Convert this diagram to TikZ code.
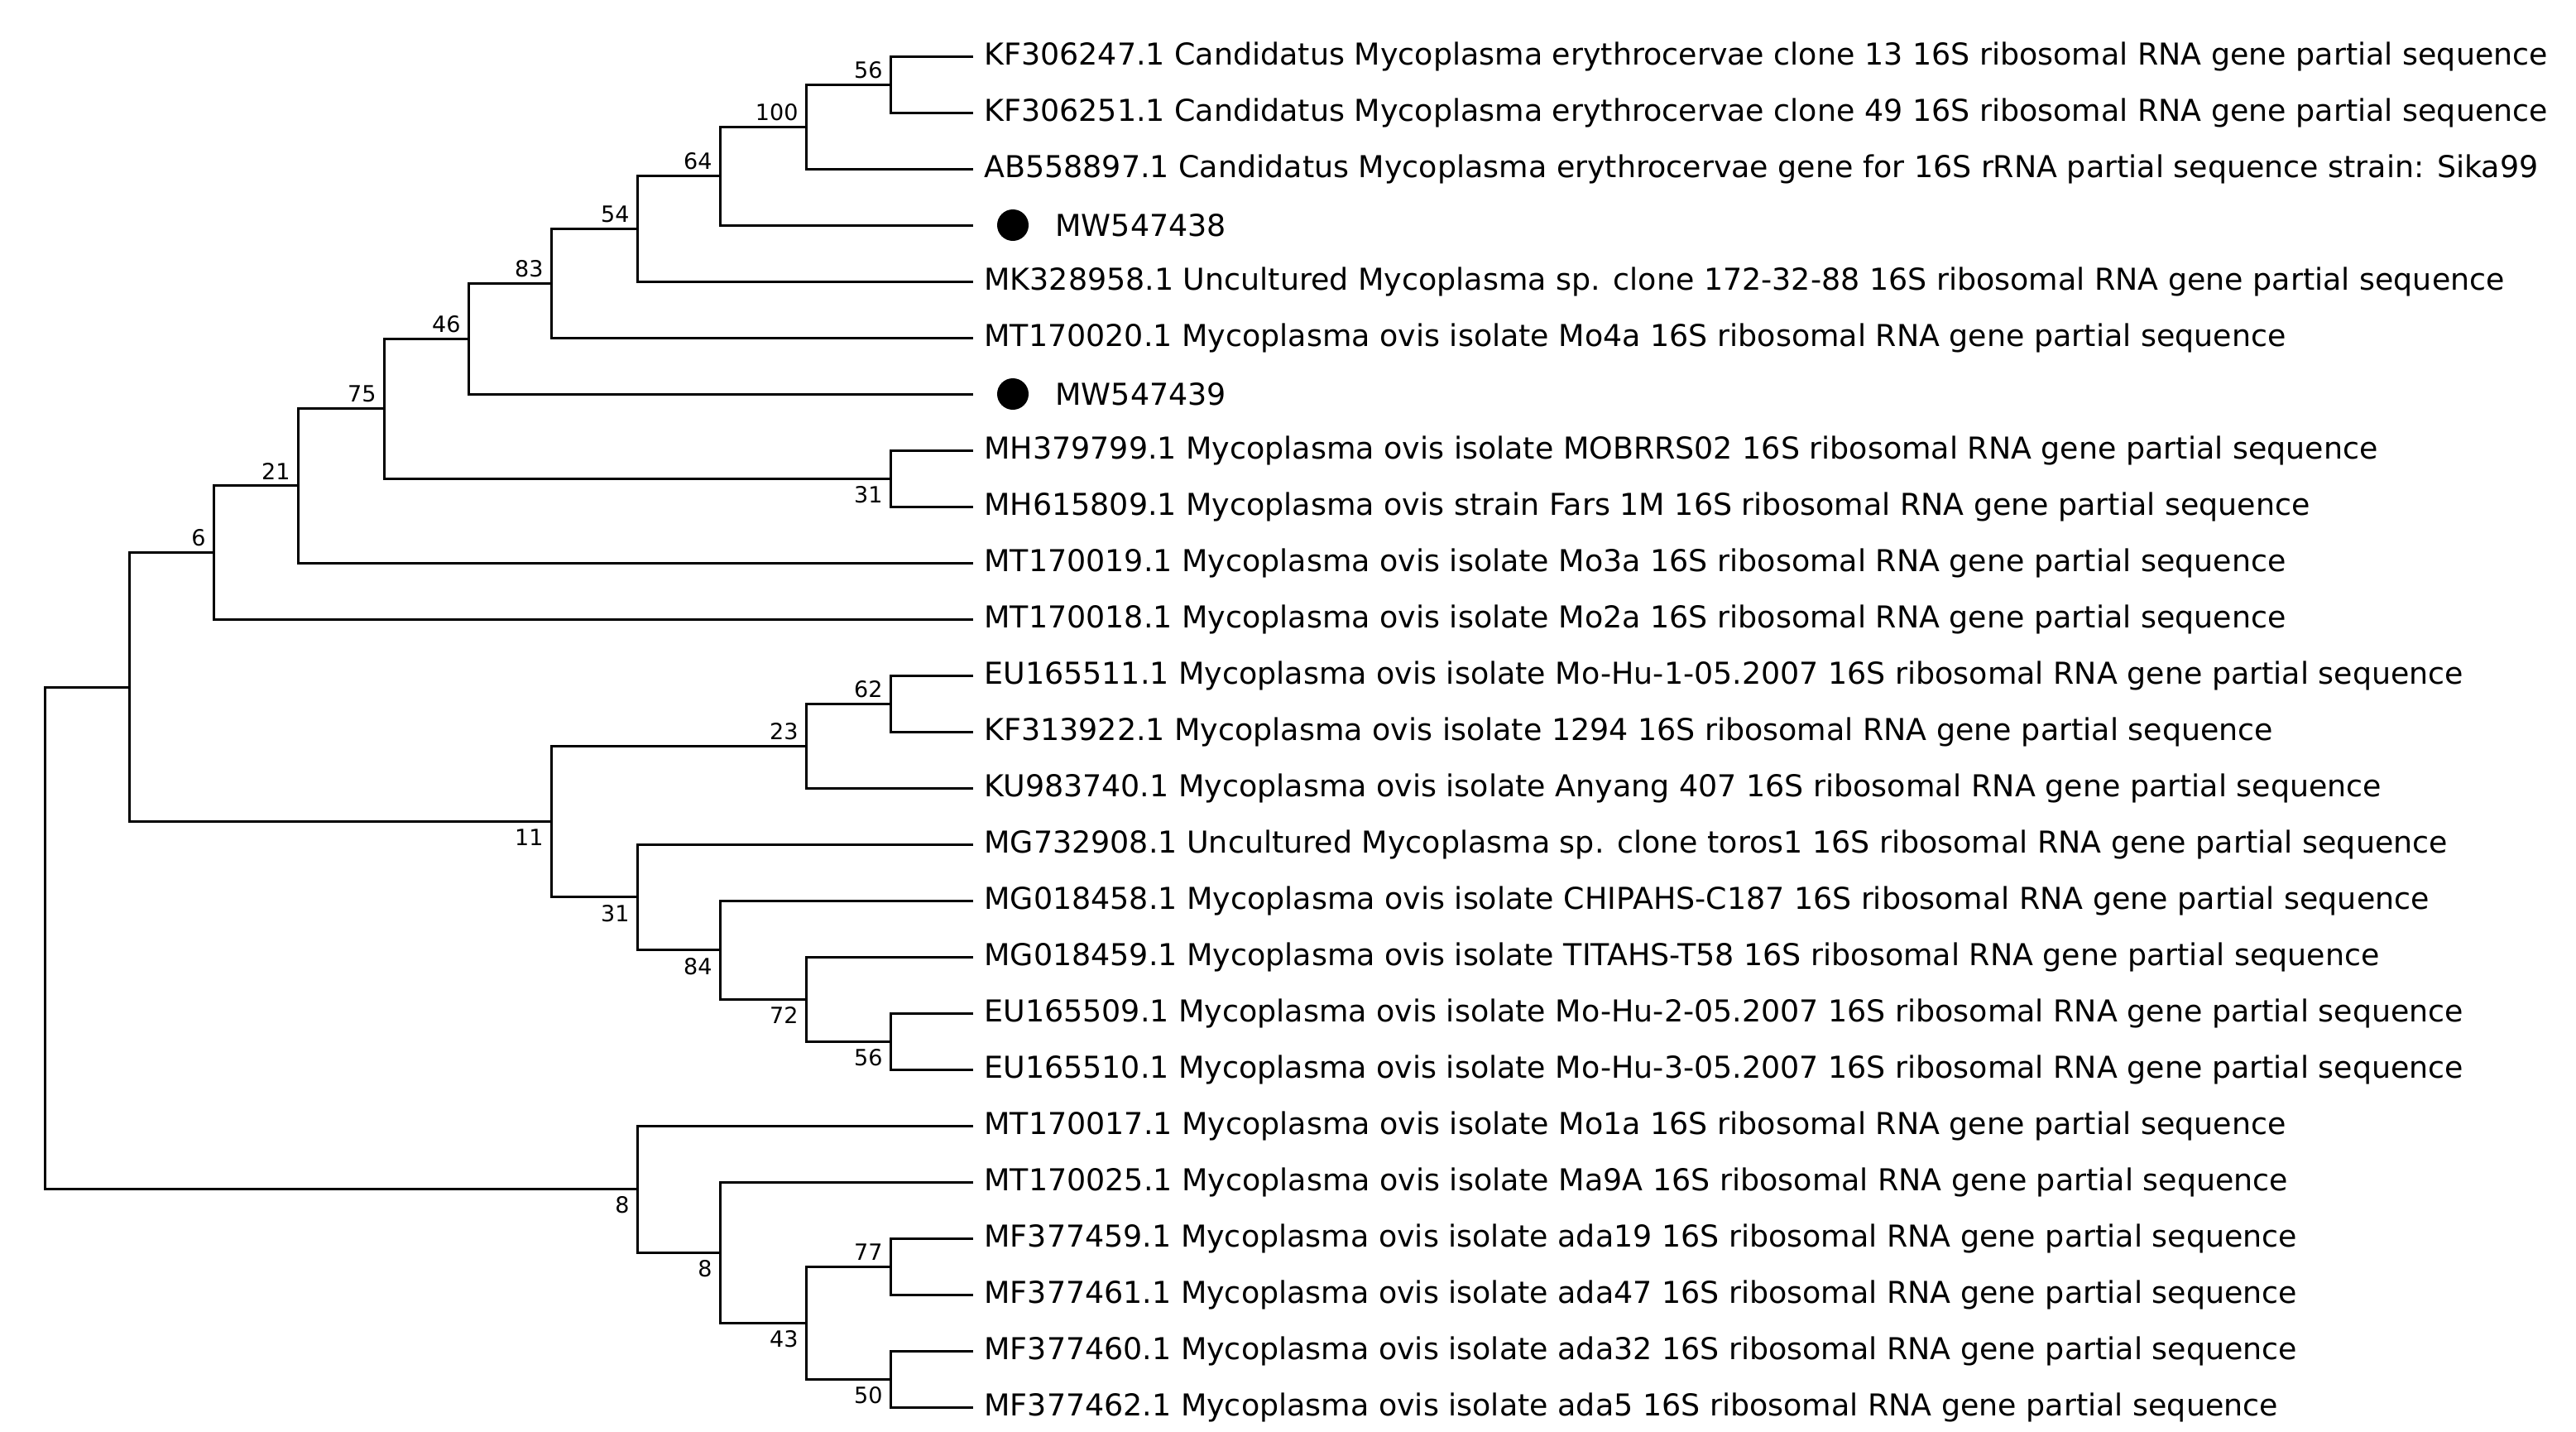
\documentclass[tikz,border=0pt]{standalone}
\usepackage{fontspec}
\setmainfont{DejaVu Sans}
\begin{document}
\begin{tikzpicture}[x=1pt,y=-1pt,line width=1.5pt,
 leaf/.style={anchor=west,inner sep=0pt,font=\fontsize{18.2}{20}\selectfont},
 bs/.style={inner sep=0pt,font=\fontsize{13.5}{15}\selectfont},
 up/.style={bs,anchor=south east,xshift=-4pt,yshift=3pt},
 dn/.style={bs,anchor=north east,xshift=-4pt,yshift=-4pt},
 dot/.style={circle,fill=black,inner sep=0pt,minimum size=19pt}]
\useasboundingbox (0,0) rectangle (1556.5,864.5);
% leaves
\foreach \i/\t in {0/KF306247.1 Candidatus Mycoplasma erythrocervae clone 13 16S ribosomal RNA gene partial sequence,
1/KF306251.1 Candidatus Mycoplasma erythrocervae clone 49 16S ribosomal RNA gene partial sequence,
2/AB558897.1 Candidatus Mycoplasma erythrocervae gene for 16S rRNA partial sequence strain: Sika99,
4/MK328958.1 Uncultured Mycoplasma sp. clone 172-32-88 16S ribosomal RNA gene partial sequence,
5/MT170020.1 Mycoplasma ovis isolate Mo4a 16S ribosomal RNA gene partial sequence,
7/MH379799.1 Mycoplasma ovis isolate MOBRRS02 16S ribosomal RNA gene partial sequence,
8/MH615809.1 Mycoplasma ovis strain Fars 1M 16S ribosomal RNA gene partial sequence,
9/MT170019.1 Mycoplasma ovis isolate Mo3a 16S ribosomal RNA gene partial sequence,
10/MT170018.1 Mycoplasma ovis isolate Mo2a 16S ribosomal RNA gene partial sequence,
11/EU165511.1 Mycoplasma ovis isolate Mo-Hu-1-05.2007 16S ribosomal RNA gene partial sequence,
12/KF313922.1 Mycoplasma ovis isolate 1294 16S ribosomal RNA gene partial sequence,
13/KU983740.1 Mycoplasma ovis isolate Anyang 407 16S ribosomal RNA gene partial sequence,
14/MG732908.1 Uncultured Mycoplasma sp. clone toros1 16S ribosomal RNA gene partial sequence,
15/MG018458.1 Mycoplasma ovis isolate CHIPAHS-C187 16S ribosomal RNA gene partial sequence,
16/MG018459.1 Mycoplasma ovis isolate TITAHS-T58 16S ribosomal RNA gene partial sequence,
17/EU165509.1 Mycoplasma ovis isolate Mo-Hu-2-05.2007 16S ribosomal RNA gene partial sequence,
18/EU165510.1 Mycoplasma ovis isolate Mo-Hu-3-05.2007 16S ribosomal RNA gene partial sequence,
19/MT170017.1 Mycoplasma ovis isolate Mo1a 16S ribosomal RNA gene partial sequence,
20/MT170025.1 Mycoplasma ovis isolate Ma9A 16S ribosomal RNA gene partial sequence,
21/MF377459.1 Mycoplasma ovis isolate ada19 16S ribosomal RNA gene partial sequence,
22/MF377461.1 Mycoplasma ovis isolate ada47 16S ribosomal RNA gene partial sequence,
23/MF377460.1 Mycoplasma ovis isolate ada32 16S ribosomal RNA gene partial sequence,
24/MF377462.1 Mycoplasma ovis isolate ada5 16S ribosomal RNA gene partial sequence}
{\coordinate (L\i) at (588,34+34*\i);
 \node[leaf] (T\i) at (594,34+34*\i) {\t};}
\foreach \i/\t in {3/MW547438,6/MW547439}
{\coordinate (L\i) at (588,34+34*\i);
 \node[dot] (D\i) at (612,34+34*\i) {};
 \node[leaf] (T\i) at (637,34+34*\i) {\t};}
% internal nodes
\coordinate (a56) at (538,51);
\coordinate (a100) at (487,76.5);
\coordinate (a64) at (435,106.25);
\coordinate (a54) at (385,138.1);
\coordinate (a83) at (333,171.1);
\coordinate (a46) at (283,204.5);
\coordinate (a31) at (538,289);
\coordinate (a75) at (232,246.75);
\coordinate (a21) at (180,293.4);
\coordinate (a6) at (129,333.7);
\coordinate (b62) at (538,425);
\coordinate (b23) at (487,450.5);
\coordinate (b56) at (538,629);
\coordinate (b72) at (487,603.5);
\coordinate (b84) at (435,573.75);
\coordinate (b31) at (385,541.9);
\coordinate (b11) at (333,496.2);
\coordinate (top) at (78,415);
\coordinate (c77) at (538,765);
\coordinate (c50) at (538,833);
\coordinate (c43) at (487,799);
\coordinate (c8b) at (435,756.5);
\coordinate (c8a) at (385,718);
\coordinate (root) at (27,566.5);
% edges
\foreach \p/\u/\l in {a56/L0/L1,a100/a56/L2,a64/a100/L3,a54/a64/L4,a83/a54/L5,a46/a83/L6,
 a31/L7/L8,a75/a46/a31,a21/a75/L9,a6/a21/L10,
 b62/L11/L12,b23/b62/L13,b56/L17/L18,b72/L16/b56,b84/L15/b72,b31/L14/b84,b11/b23/b31,
 top/a6/b11,c77/L21/L22,c50/L23/L24,c43/c77/c50,c8b/L20/c43,c8a/L19/c8b,root/top/c8a}
 \draw (\u) -| (\p) |- (\l);
% bootstrap labels
\foreach \n/\v/\s in {a56/56/up,a100/100/up,a64/64/up,a54/54/up,a83/83/up,a46/46/up,a31/31/dn,a75/75/up,a21/21/up,a6/6/up,
 b62/62/up,b23/23/up,b56/56/dn,b72/72/dn,b84/84/dn,b31/31/dn,b11/11/dn,
 c77/77/up,c50/50/dn,c43/43/dn,c8b/8/dn,c8a/8/dn}
 \node[\s] (lab\n) at (\n) {\v};
\end{tikzpicture}
\end{document}
